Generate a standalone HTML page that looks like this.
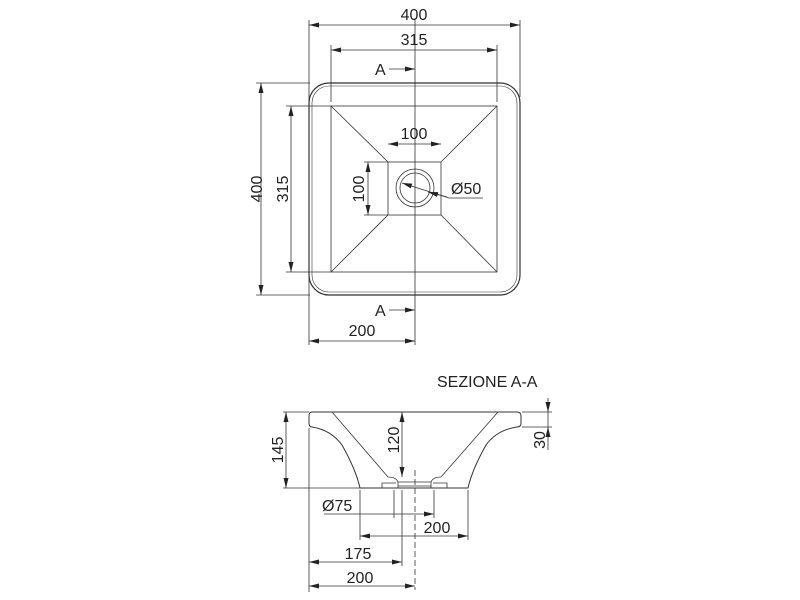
<!DOCTYPE html>
<html><head><meta charset="utf-8"><style>
html,body{margin:0;padding:0;background:#fff;}
svg{display:block}
text{font-family:"Liberation Sans",sans-serif;font-size:16px;fill:#222}
</style></head><body>
<svg width="800" height="600" viewBox="0 0 800 600" xmlns="http://www.w3.org/2000/svg">
<defs>
<marker id="a" viewBox="0 0 10 6" refX="10" refY="3" markerWidth="10" markerHeight="6" orient="auto-start-reverse" markerUnits="userSpaceOnUse"><path d="M0,0.5 L10,3 L0,5.5z" fill="#222"/></marker>
</defs>
<g stroke="#333" stroke-width="0.8" fill="none">
<!-- TOP VIEW -->
<rect x="309" y="83" width="211" height="212" rx="20" stroke-width="1.2"/>
<rect x="312" y="86" width="205" height="206" rx="17" stroke-width="0.6"/>
<rect x="331" y="106" width="166" height="166"/>
<rect x="388" y="162" width="53" height="53"/>
<line x1="331" y1="106" x2="388" y2="162"/>
<line x1="497" y1="106" x2="441" y2="162"/>
<line x1="331" y1="272" x2="388" y2="215"/>
<line x1="497" y1="272" x2="441" y2="215"/>
<circle cx="415" cy="188" r="19"/>
<circle cx="415" cy="188" r="15"/>
<line x1="415" y1="20" x2="415" y2="345"/>
<line x1="309" y1="20" x2="309" y2="345"/>
<line x1="520" y1="20" x2="520" y2="97"/>
<line x1="331" y1="45" x2="331" y2="102"/>
<line x1="497" y1="45" x2="497" y2="102"/>
<line x1="256" y1="83" x2="310" y2="83"/>
<line x1="256" y1="295" x2="310" y2="295"/>
<line x1="286" y1="106" x2="331" y2="106"/>
<line x1="286" y1="272" x2="331" y2="272"/>
<line x1="364" y1="162" x2="388" y2="162"/>
<line x1="364" y1="215" x2="388" y2="215"/>
<line x1="309" y1="25" x2="520" y2="25" marker-start="url(#a)" marker-end="url(#a)"/>
<line x1="331" y1="50" x2="497" y2="50" marker-start="url(#a)" marker-end="url(#a)"/>
<line x1="388" y1="144" x2="441" y2="144" marker-start="url(#a)" marker-end="url(#a)"/>
<line x1="261" y1="83" x2="261" y2="295" marker-start="url(#a)" marker-end="url(#a)"/>
<line x1="291" y1="106" x2="291" y2="272" marker-start="url(#a)" marker-end="url(#a)"/>
<line x1="368" y1="162" x2="368" y2="215" marker-start="url(#a)" marker-end="url(#a)"/>
<line x1="309" y1="341" x2="415" y2="341" marker-start="url(#a)" marker-end="url(#a)"/>
<line x1="389" y1="69" x2="415" y2="69" marker-end="url(#a)"/>
<line x1="389" y1="310" x2="415" y2="310" marker-end="url(#a)"/>
<polyline points="483,198 449,198 402,183" marker-end="url(#a)"/>
<line x1="447" y1="197" x2="428" y2="192" marker-end="url(#a)"/>

<!-- SECTION -->
<path d="M312,412 L517,412 Q521,412 521,416 L521,423 Q521,427 517,427 Q497,430 486,445 Q472,470 468,488 L360,488 Q356,470 342,445 Q331,430 312,427 Q309,427 309,423 L309,416 Q309,412 312,412 Z" stroke-width="1"/>
<path d="M332,412 L388,477 Q396,477 398,482 L431,482 Q433,477 441,477 L498,412"/>
<path d="M382,488 L382,483 L396,483"/>
<path d="M447,488 L447,483 L433,483"/>
<line x1="398" y1="482" x2="398" y2="488"/>
<line x1="431" y1="482" x2="431" y2="488"/>
<line x1="398" y1="486" x2="431" y2="486"/>
<line x1="415" y1="470" x2="415" y2="590" stroke-dasharray="6,3"/>
<line x1="283" y1="412" x2="309" y2="412"/>
<line x1="283" y1="488" x2="360" y2="488"/>
<line x1="309" y1="428" x2="309" y2="592"/>
<line x1="360" y1="490" x2="360" y2="540"/>
<line x1="468" y1="490" x2="468" y2="540"/>
<line x1="394" y1="490" x2="394" y2="518"/>
<line x1="434" y1="490" x2="434" y2="518"/>
<line x1="402" y1="490" x2="402" y2="566"/>
<line x1="522" y1="412" x2="552" y2="412"/>
<line x1="522" y1="427" x2="552" y2="427"/>
<line x1="286" y1="412" x2="286" y2="488" marker-start="url(#a)" marker-end="url(#a)"/>
<line x1="402" y1="412" x2="402" y2="477" marker-start="url(#a)" marker-end="url(#a)"/>
<line x1="548" y1="398" x2="548" y2="412" marker-end="url(#a)"/>
<line x1="548" y1="450" x2="548" y2="427" marker-end="url(#a)"/>
<line x1="548" y1="412" x2="548" y2="427"/>
<line x1="324" y1="514" x2="434" y2="514" marker-end="url(#a)"/>
<line x1="360" y1="536" x2="468" y2="536" marker-start="url(#a)" marker-end="url(#a)"/>
<line x1="309" y1="562" x2="402" y2="562" marker-start="url(#a)" marker-end="url(#a)"/>
<line x1="309" y1="586" x2="415" y2="586" marker-start="url(#a)" marker-end="url(#a)"/>
</g>
<g>
<text x="414" y="20" text-anchor="middle">400</text>
<text x="414" y="45" text-anchor="middle">315</text>
<text x="414" y="139" text-anchor="middle">100</text>
<text x="375" y="75">A</text>
<text x="375" y="316">A</text>
<text x="451" y="194">Ø50</text>
<text x="362" y="336" text-anchor="middle">200</text>
<text transform="translate(262,189) rotate(-90)" text-anchor="middle">400</text>
<text transform="translate(288,189) rotate(-90)" text-anchor="middle">315</text>
<text transform="translate(364,189) rotate(-90)" text-anchor="middle">100</text>
<text x="437" y="387">SEZIONE A-A</text>
<text transform="translate(283,450) rotate(-90)" text-anchor="middle">145</text>
<text transform="translate(399,440) rotate(-90)" text-anchor="middle">120</text>
<text transform="translate(545,440) rotate(-90)" text-anchor="middle">30</text>
<text x="322" y="511">Ø75</text>
<text x="437" y="533" text-anchor="middle">200</text>
<text x="358" y="559" text-anchor="middle">175</text>
<text x="360" y="583" text-anchor="middle">200</text>
</g>
</svg>
</body></html>
